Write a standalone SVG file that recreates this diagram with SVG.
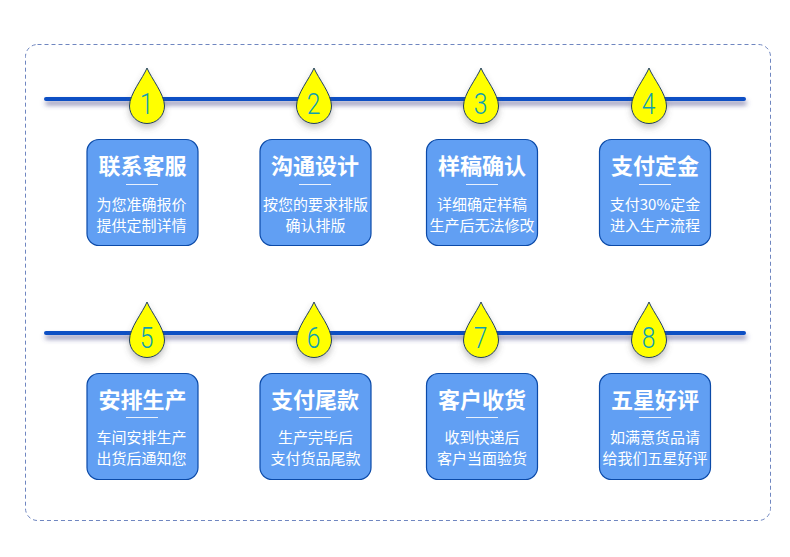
<svg xmlns="http://www.w3.org/2000/svg" width="790" height="557" viewBox="0 0 790 557">
<defs>
<filter id="sh" x="-5%" y="-150%" width="110%" height="500%"><feDropShadow dx="1" dy="4" stdDeviation="2.500" flood-color="#50508c" flood-opacity=".7"/></filter>
<filter id="dsh" x="-40%" y="-30%" width="180%" height="170%"><feDropShadow dx="0" dy="4" stdDeviation="3" flood-color="#555" flood-opacity=".35"/></filter>
<path id="drop" d="M0 -36 C4 -26 17.500 -10 17.500 2 A17.500 17.500 0 0 1 -17.500 2 C-17.500 -10 -4 -26 0 -36Z"/>
<rect id="card" width="111" height="106" rx="12" ry="12"/>
</defs>
<style>
text{font-family:"Noto Sans CJK SC","Liberation Sans",sans-serif;text-anchor:middle}
.line{fill:#0a50c4}
.d{fill:#ffff00;stroke:#1f3f63;stroke-width:1}
.n{font-family:"Roboto",sans-serif;font-size:29px;fill:#0f9fb0;font-weight:300}
.c{fill:#619ff3;stroke:#0b4aa8;stroke-width:1.200}
.t{font-size:22px;font-weight:700;fill:#fff}
.s{font-size:15px;fill:#fff}
.r{stroke:#fff;stroke-width:1;opacity:.85}
</style>
<rect x="25.500" y="44.500" width="745" height="476" rx="12" fill="#fff" stroke="#6f86c0" stroke-width="1" stroke-dasharray="4 3"/>
<g id="connectors">
<rect class="line" x="44" y="97" width="702" height="4" rx="2" filter="url(#sh)"/>
<rect class="line" x="44" y="331" width="702" height="4" rx="2" filter="url(#sh)"/>
</g>
<g id="step1"><use href="#drop" class="d" x="147" y="104" filter="url(#dsh)"/><text class="n" x="146.500" y="114" transform="translate(146.500 0) scale(.85 1) translate(-146.500 0)">1</text><use href="#card" class="c" x="87" y="139.500"/><text class="t" x="142.500" y="174">联系客服</text><line class="r" x1="126" x2="158" y1="184.500" y2="184.500"/><text class="s" x="141.500" y="210">为您准确报价</text><text class="s" x="141.500" y="231">提供定制详情</text></g>
<g id="step2"><use href="#drop" class="d" x="314" y="104" filter="url(#dsh)"/><text class="n" x="313.500" y="114" transform="translate(313.500 0) scale(.85 1) translate(-313.500 0)">2</text><use href="#card" class="c" x="260" y="139.500"/><text class="t" x="315" y="174">沟通设计</text><line class="r" x1="299" x2="331" y1="184.500" y2="184.500"/><text class="s" x="315.500" y="210">按您的要求排版</text><text class="s" x="315.500" y="231">确认排版</text></g>
<g id="step3"><use href="#drop" class="d" x="481" y="104" filter="url(#dsh)"/><text class="n" x="480.500" y="114" transform="translate(480.500 0) scale(.85 1) translate(-480.500 0)">3</text><use href="#card" class="c" x="426.500" y="139.500"/><text class="t" x="482" y="174">样稿确认</text><line class="r" x1="466" x2="498" y1="184.500" y2="184.500"/><text class="s" x="482" y="210">详细确定样稿</text><text class="s" x="482" y="231">生产后无法修改</text></g>
<g id="step4"><use href="#drop" class="d" x="649" y="104" filter="url(#dsh)"/><text class="n" x="648.500" y="114" transform="translate(648.500 0) scale(.85 1) translate(-648.500 0)">4</text><use href="#card" class="c" x="599.500" y="139.500"/><text class="t" x="655" y="174">支付定金</text><line class="r" x1="639" x2="671" y1="184.500" y2="184.500"/><text class="s" x="655" y="210">支付30%定金</text><text class="s" x="655" y="231">进入生产流程</text></g>
<g id="step5"><use href="#drop" class="d" x="147" y="338" filter="url(#dsh)"/><text class="n" x="146.500" y="348" transform="translate(146.500 0) scale(.85 1) translate(-146.500 0)">5</text><use href="#card" class="c" x="87" y="373.500"/><text class="t" x="142.500" y="408">安排生产</text><line class="r" x1="126" x2="158" y1="417.500" y2="417.500"/><text class="s" x="141.500" y="443">车间安排生产</text><text class="s" x="141.500" y="464">出货后通知您</text></g>
<g id="step6"><use href="#drop" class="d" x="314" y="338" filter="url(#dsh)"/><text class="n" x="313.500" y="348" transform="translate(313.500 0) scale(.85 1) translate(-313.500 0)">6</text><use href="#card" class="c" x="260" y="373.500"/><text class="t" x="315" y="408">支付尾款</text><line class="r" x1="299" x2="331" y1="417.500" y2="417.500"/><text class="s" x="315.500" y="443">生产完毕后</text><text class="s" x="315.500" y="464">支付货品尾款</text></g>
<g id="step7"><use href="#drop" class="d" x="481" y="338" filter="url(#dsh)"/><text class="n" x="480.500" y="348" transform="translate(480.500 0) scale(.85 1) translate(-480.500 0)">7</text><use href="#card" class="c" x="426.500" y="373.500"/><text class="t" x="482" y="408">客户收货</text><line class="r" x1="466" x2="498" y1="417.500" y2="417.500"/><text class="s" x="482" y="443">收到快递后</text><text class="s" x="482" y="464">客户当面验货</text></g>
<g id="step8"><use href="#drop" class="d" x="649" y="338" filter="url(#dsh)"/><text class="n" x="648.500" y="348" transform="translate(648.500 0) scale(.85 1) translate(-648.500 0)">8</text><use href="#card" class="c" x="599.500" y="373.500"/><text class="t" x="655" y="408">五星好评</text><line class="r" x1="639" x2="671" y1="417.500" y2="417.500"/><text class="s" x="655" y="443">如满意货品请</text><text class="s" x="655" y="464">给我们五星好评</text></g>
</svg>
